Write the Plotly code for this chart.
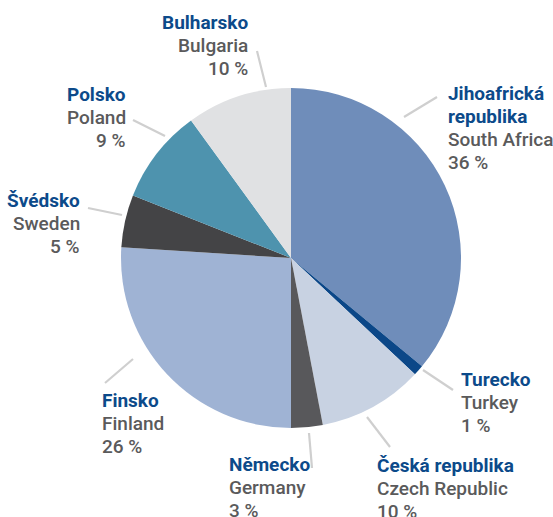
import plotly.graph_objects as go

# ---- data ----
names_cs = [["Jihoafrická", "republika"], ["Turecko"], ["Česká republika"], ["Německo"],
            ["Finsko"], ["Švédsko"], ["Polsko"], ["Bulharsko"]]
names_en = ["South Africa", "Turkey", "Czech Republic", "Germany",
            "Finland", "Sweden", "Poland", "Bulgaria"]
shares = [36, 1, 10, 3, 26, 5, 9, 10]

colors = ["#6f8dba", "#0b4788", "#c8d2e2", "#58585b",
          "#9fb3d4", "#444446", "#4e93ae", "#e0e1e3"]

W, H = 553, 517
BLUE = "#0c4a8a"
GRAY = "#5a5a5b"
LINE = "#cfcfcf"
FONT = "Roboto"
FS = 19
LH = 23

# pie geometry in window pixels
cx, cy, R = 291, 258, 170

# label layout (window pixel positions): text x, first-baseline y, anchor, leader line
label_layout = [
    dict(x=447, base=100, anchor="left",  line=((404, 117), (437, 97))),
    dict(x=460, base=386, anchor="left", line=((423, 370), (453, 390))),
    dict(x=376, base=472, anchor="left", line=((367, 417), (390, 447))),
    dict(x=228, base=471, anchor="left", line=((309, 433), (312, 468))),
    dict(x=101, base=407, anchor="left", line=((133, 359), (105, 383))),
    dict(x=81,  base=207, anchor="right", line=((122, 215), (88, 208))),
    dict(x=127, base=101, anchor="right", line=((165, 136), (133, 120))),
    dict(x=249, base=29,  anchor="right", line=((266, 87), (257, 51))),
]

def px(x):
    return x / W

def py(y):
    return 1 - y / H

fig = go.Figure(go.Pie(
    labels=names_en,
    values=shares,
    sort=False,
    direction="clockwise",
    rotation=0,
    marker=dict(colors=colors, line=dict(width=0)),
    textinfo="none",
    hoverinfo="label+percent",
    domain=dict(x=[px(cx - R), px(cx + R)], y=[py(cy + R), py(cy - R)]),
    showlegend=False,
))

for cs, en, v, lay in zip(names_cs, names_en, shares, label_layout):
    lines = [(t, BLUE, 700) for t in cs] + [(en, GRAY, 500), (f"{v} %", GRAY, 500)]
    for i, (t, col, wt) in enumerate(lines):
        base = lay["base"] + i * LH
        fig.add_annotation(
            x=px(lay["x"]), y=py(base - 0.345 * FS),
            xref="paper", yref="paper",
            xanchor=lay["anchor"], yanchor="middle",
            text=t, showarrow=False,
            font=dict(family=FONT, size=FS, color=col, weight=wt),
            borderpad=0,
        )
    (x0, y0), (x1, y1) = lay["line"]
    fig.add_shape(type="line", xref="paper", yref="paper",
                  x0=px(x0), y0=py(y0), x1=px(x1), y1=py(y1),
                  line=dict(color=LINE, width=2.2))

fig.update_layout(
    width=W, height=H,
    margin=dict(l=0, r=0, t=0, b=0),
    paper_bgcolor="white",
    plot_bgcolor="white",
    font=dict(family=FONT),
)

fig.write_html(
    "out.html",
    config={"displayModeBar": False},
    post_script="document.body.style.margin='0';document.body.style.overflow='hidden';",
)
